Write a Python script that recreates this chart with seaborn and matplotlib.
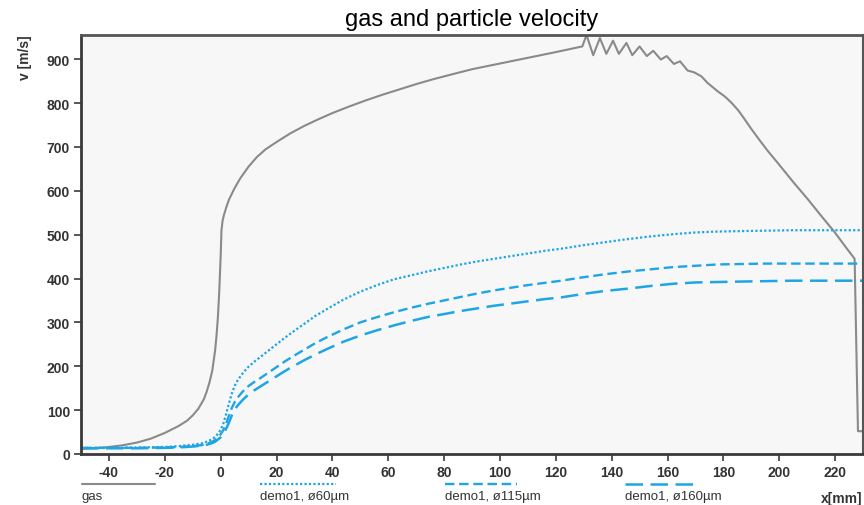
import numpy as np
import pandas as pd
import matplotlib
matplotlib.use("Agg")
import matplotlib.pyplot as plt
from matplotlib.lines import Line2D
import seaborn as sns


# gas velocity along the nozzle axis
x_gas = [-50, -45, -40, -35, -30, -25, -20, -15, -12, -10, -8, -6, -5, -4, -3, -2, -1.5, -1, -0.5,
         0, 0.3, 0.7, 1.2, 2, 3, 5, 7, 10, 13, 16, 20, 25, 30, 35, 40, 46, 52, 58, 64, 70,
         76, 82, 90, 100, 110, 120, 129.5,
         131, 133.4, 135.8, 138.1, 140.5, 142.6, 145.3, 147.4, 150, 152.6, 154.9,
         157.6, 159.7, 162.3, 164.5, 167.2, 169.5, 172.1, 174.3, 177.9, 180.5, 183, 185.5,
         187.5, 190, 193, 196, 199.4, 205, 210.2, 215, 219.8, 224, 227, 228.2, 230]
v_gas = [12, 13, 16, 20, 26, 35, 48, 64, 76, 88, 103, 125, 142, 163, 190, 235, 268, 310, 370,
         450, 510, 532, 545, 562, 580, 606, 628, 655, 677, 694, 711, 731, 748, 763, 777, 792, 806, 819, 831, 843,
         854, 864, 877, 890, 903, 916, 929,
         955, 909, 948, 912, 942, 912, 937, 909, 929, 907, 919,
         899, 907, 889, 895, 874, 870, 861, 846, 827, 815, 800, 782,
         764, 741, 715, 690, 664, 620, 581, 543, 506, 470, 445, 52, 52]

# particle velocities (demo1, three diameters)
x_p = [-50, -40, -30, -20, -15, -10, -7, -5, -3, -2, -1, 0, 1, 2, 3, 4, 5, 6, 8, 10, 12, 14, 17,
       20, 23, 26, 30, 34, 38, 44, 50, 56, 62, 68, 74, 80, 86, 92, 98, 104, 110, 116, 122,
       130, 138, 146, 154, 162, 170, 178, 186, 195, 205, 215, 230]
v_60 = [14, 14, 15, 16, 18, 21, 24, 28, 34, 39, 46, 55, 70, 92, 116, 138, 155, 167, 185, 199, 210, 220, 235,
        250, 265, 279, 297, 315, 330, 352, 370, 385, 398, 407, 416, 424, 432, 439, 445, 451, 457, 463, 468,
        476, 483, 490, 496, 501, 505, 507, 508, 509, 510, 510, 510]
v_115 = [14, 14, 14, 15, 16, 18, 20, 23, 28, 32, 38, 45, 55, 70, 88, 105, 118, 128, 143, 155, 164, 172, 185,
         198, 211, 223, 238, 253, 266, 284, 300, 312, 323, 333, 342, 350, 358, 366, 373, 379, 385, 390, 395,
         403, 410, 416, 421, 426, 429, 432, 433, 434, 434, 434, 434]
v_160 = [13, 13, 13, 14, 15, 17, 19, 21, 25, 28, 33, 38, 46, 58, 72, 88, 100, 110, 124, 136, 145, 153, 165,
         177, 189, 200, 214, 227, 239, 256, 270, 282, 293, 303, 312, 319, 326, 332, 338, 343, 348, 353, 357,
         365, 372, 377, 383, 388, 391, 392, 393, 394, 395, 395, 395]

labels = ["gas", "demo1, ø60µm", "demo1, ø115µm", "demo1, ø160µm"]

GRAY = "#8a8a8a"
BLUE = "#1ea5e6"
AXC = "#3a3a3a"

sns.set_theme(style="white")
plt.rcParams["font.family"] = ["Liberation Sans", "DejaVu Sans"]
plt.rcParams["axes.unicode_minus"] = False

fig = plt.figure(figsize=(8.64, 5.06), dpi=100)
ax = fig.add_axes([81 / 864, 1 - 455 / 506, 782 / 864, 419 / 506])
ax.set_facecolor("#f7f7f7")

styles = [
    dict(color=GRAY, lw=1.5, ls="-"),
    dict(color=BLUE, lw=1.6, ls=(0, (1, 1))),
    dict(color=BLUE, lw=1.7, ls=(0, (4, 2))),
    dict(color=BLUE, lw=1.8, ls=(0, (7, 3))),
]

series = [(x_gas, v_gas), (x_p, v_60), (x_p, v_115), (x_p, v_160)]
for (xs, vs), st in zip(series, styles):
    sns.lineplot(x=xs, y=vs, ax=ax, estimator=None, sort=False,
                 color=st["color"], linewidth=st["lw"], linestyle=st["ls"])

ax.set_xlim(-50, 230)
ax.set_ylim(0, 955)
ax.set_xticks(np.arange(-40, 221, 20))
ax.set_yticks(np.arange(0, 901, 100))
ax.set_xlabel("")
ax.set_ylabel("")

for side in ["left", "bottom"]:
    ax.spines[side].set_color(AXC)
    ax.spines[side].set_linewidth(2)
ax.spines["top"].set_color("#555555")
ax.spines["top"].set_linewidth(2)
ax.spines["right"].set_color("#555555")
ax.spines["right"].set_linewidth(1.5)

ax.tick_params(axis="both", direction="out", length=5, width=1.2, color=AXC,
               labelsize=10, labelcolor="#333333", pad=3)
ax.tick_params(left=True, bottom=True)
for lab in ax.get_xticklabels() + ax.get_yticklabels():
    lab.set_fontweight("bold")

fig.text(472 / 864, 1 - 20 / 506, "gas and particle velocity", ha="center", va="center",
         fontsize=17, color="black")
fig.text(25 / 864, 1 - 58 / 506, "v [m/s]", rotation=90, ha="center", va="center",
         fontsize=10, fontweight="bold", color="#333333")
fig.text(862 / 864, 1 - 499 / 506, "x[mm]", ha="right", va="center",
         fontsize=10, fontweight="bold", color="#333333")

# legend below the plot: sample line above each label
leg_x = [(82, 155), (260, 336), (445, 517), (625, 697)]
for (x0, x1), st, lab in zip(leg_x, styles, labels):
    fig.add_artist(Line2D([x0 / 864, x1 / 864], [1 - 485 / 506] * 2, color=st["color"],
                          linewidth=st["lw"], linestyle=st["ls"]))
    fig.text(x0 / 864, 1 - 497 / 506, lab, ha="left", va="center", fontsize=9.5, color="#333333")

fig.savefig("out.png", dpi=100)
